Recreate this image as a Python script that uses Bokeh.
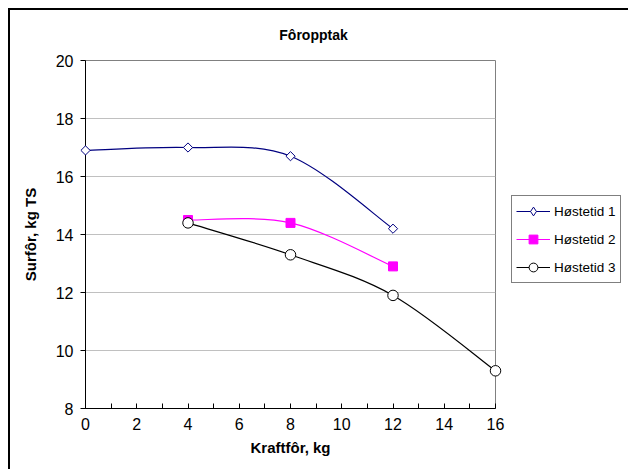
from bokeh.plotting import figure
from bokeh.models import Range1d, FixedTicker, Legend, LegendItem, ColumnDataSource, Label
from bokeh.embed import file_html
from bokeh.resources import INLINE
import math

# ---- data ----
title_text = "Fôropptak"
x_label = "Kraftfôr, kg"
y_label = "Surfôr, kg TS"
series_names = ["Høstetid 1", "Høstetid 2", "Høstetid 3"]
x1 = [0, 4, 8, 12]
y1 = [16.9, 17.0, 16.7, 14.2]
x2 = [4, 8, 12]
y2 = [14.5, 14.4, 12.9]
x3 = [4, 8, 12, 16]
y3 = [14.4, 13.3, 11.9, 9.3]
x_ticks = [0, 2, 4, 6, 8, 10, 12, 14, 16]
x_minor = [1, 3, 5, 7, 9, 11, 13, 15]
y_ticks = [8, 10, 12, 14, 16, 18, 20]

FONT = "Liberation Sans"
W, H = 620, 461
ML, MR, MT, MB = 75, 135, 50, 63
XMIN, XMAX, YMIN, YMAX = 0, 16, 8, 20

# ---- main figure: frame, axes, grid ----
p = figure(width=W, height=H, output_backend="svg", toolbar_location=None,
           x_range=Range1d(XMIN, XMAX), y_range=Range1d(YMIN, YMAX),
           min_border_left=ML, min_border_right=MR, min_border_top=MT, min_border_bottom=MB)
p.styles = {"margin-left": "8px", "margin-top": "8px",
            "border-left": "2px solid #000", "border-top": "2px solid #000"}
p.background_fill_color = "white"
p.border_fill_color = "white"
p.outline_line_color = "#808080"
p.outline_line_width = 1

p.xaxis.ticker = FixedTicker(ticks=x_ticks, minor_ticks=x_minor)
p.yaxis.ticker = FixedTicker(ticks=y_ticks)
for ax in (p.xaxis[0], p.yaxis[0]):
    ax.axis_line_color = "black"
    ax.major_tick_line_color = "black"
    ax.minor_tick_line_color = "black"
    ax.major_label_text_font = FONT
    ax.major_label_text_font_size = "16px"
    ax.major_label_text_color = "black"
    ax.axis_label_text_font = FONT
    ax.axis_label_text_font_size = "15px"
    ax.axis_label_text_font_style = "bold"
    ax.axis_label_text_color = "black"
p.xaxis.major_tick_in = 5
p.xaxis.major_tick_out = 0
p.xaxis.minor_tick_in = 5
p.xaxis.minor_tick_out = 0
p.xaxis.major_label_standoff = 9
p.xaxis.axis_label = x_label
p.xaxis.axis_label_standoff = 6
p.yaxis.major_tick_in = 0
p.yaxis.major_tick_out = 5
p.yaxis.minor_tick_in = 0
p.yaxis.minor_tick_out = 0
p.yaxis.major_label_standoff = 7
p.yaxis.axis_label = y_label
p.yaxis.axis_label_standoff = 14

p.xgrid.visible = False
p.ygrid.ticker = FixedTicker(ticks=y_ticks)
p.ygrid.grid_line_color = "#c0c0c0"
p.ygrid.grid_line_width = 1

# ---- transparent overlay whose frame is the whole canvas (same data scale) ----
ppx = (W - ML - MR) / (XMAX - XMIN)
ppy = (H - MT - MB) / (YMAX - YMIN)
q = figure(width=W, height=H, output_backend="svg", toolbar_location=None,
           x_axis_type=None, y_axis_type=None,
           x_range=Range1d(XMIN - ML / ppx, XMAX + MR / ppx),
           y_range=Range1d(YMIN - MB / ppy, YMAX + MT / ppy),
           min_border_left=0, min_border_right=0, min_border_top=0, min_border_bottom=0)
q.styles = {"position": "absolute", "left": "10px", "top": "10px", "pointer-events": "none"}
q.background_fill_alpha = 0
q.border_fill_alpha = 0
q.outline_line_color = None
q.grid.visible = False


def smooth_segments(xs, ys):
    n = len(xs)
    d = dict(x0=[], y0=[], x1=[], y1=[], cx0=[], cy0=[], cx1=[], cy1=[])
    for i in range(n - 1):
        pi = (xs[i], ys[i])
        pn = (xs[i + 1], ys[i + 1])
        pp = (xs[i - 1], ys[i - 1]) if i > 0 else pi
        pnn = (xs[i + 2], ys[i + 2]) if i + 2 < n else pn
        d["x0"].append(pi[0]); d["y0"].append(pi[1])
        d["x1"].append(pn[0]); d["y1"].append(pn[1])
        d["cx0"].append(pi[0] + (pn[0] - pp[0]) / 6)
        d["cy0"].append(pi[1] + (pn[1] - pp[1]) / 6)
        d["cx1"].append(pn[0] - (pnn[0] - pi[0]) / 6)
        d["cy1"].append(pn[1] - (pnn[1] - pi[1]) / 6)
    return ColumnDataSource(d)


styles = [
    dict(color="#000080", marker="square", angle=math.pi / 4, size=6.5, fill="white",
         legend_marker="diamond"),
    dict(color="#ff00ff", marker="square", angle=0.0, size=9, fill="#ff00ff",
         legend_marker=None),
    dict(color="black", marker="circle", angle=0.0, size=10.5, fill="white",
         legend_marker=None),
]
items = []
for (xs, ys), st, name in zip([(x1, y1), (x2, y2), (x3, y3)], styles, series_names):
    src = smooth_segments(xs, ys)
    b = q.bezier(x0="x0", y0="y0", x1="x1", y1="y1", cx0="cx0", cy0="cy0", cx1="cx1", cy1="cy1",
                 source=src, line_color=st["color"], line_width=1.2)
    m = q.scatter(x=xs, y=ys, marker=st["marker"], angle=st["angle"], size=st["size"],
                  line_color=st["color"], fill_color=st["fill"], line_width=1)
    if st["legend_marker"]:
        # legend glyphs are drawn unrotated, so a hidden diamond twin supplies the legend symbol
        m_leg = q.scatter(x=xs, y=ys, marker=st["legend_marker"], size=st["size"],
                          line_color=st["color"], fill_color=st["fill"], line_width=1,
                          visible=False)
        items.append(LegendItem(label=name, renderers=[b, m_leg], index=0))
    else:
        items.append(LegendItem(label=name, renderers=[b, m], index=0))

legend = Legend(items=items, location=(501, 188), orientation="vertical")
legend.border_line_color = "black"
legend.border_line_width = 1
legend.background_fill_color = "white"
legend.background_fill_alpha = 1
legend.inactive_fill_alpha = 0
legend.padding = 4
legend.spacing = 6
legend.glyph_width = 34
legend.glyph_height = 22
legend.label_height = 22
legend.label_standoff = 4
legend.margin = 0
legend.label_text_font = FONT
legend.label_text_font_size = "13.5px"
legend.label_text_color = "black"
legend.label_text_baseline = "middle"
q.add_layout(legend)

title = Label(x=303, y=437, x_units="screen", y_units="screen", text=title_text,
              text_font=FONT, text_font_size="14px", text_font_style="bold",
              text_align="center", text_baseline="middle", text_color="black")
q.add_layout(title)

open("out.html", "w").write(file_html([p, q], INLINE))
